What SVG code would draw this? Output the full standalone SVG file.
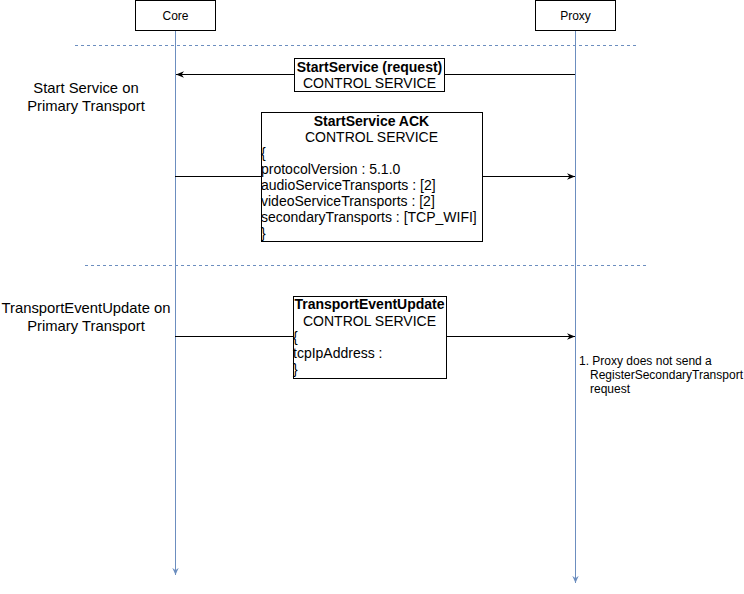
<svg xmlns="http://www.w3.org/2000/svg" width="744" height="594" viewBox="0 0 744 594">
<defs>
<style>
text{font-family:"Liberation Sans",Arial,sans-serif;font-size:12px;fill:#000}
.b{font-weight:bold}
.life{stroke:#6c8ebf;stroke-width:1;fill:none}
.dash{stroke:#6c8ebf;stroke-width:1;stroke-dasharray:3,3;fill:none}
.box{fill:#fff;stroke:#000;stroke-width:1}
.msg{stroke:#000;stroke-width:1;fill:none}
.lbl{font-size:14px}
.side{font-size:14.8px}
</style>
<marker id="ah" viewBox="0 0 10 10" refX="10" refY="5" markerWidth="8" markerHeight="8" orient="auto-start-reverse" markerUnits="userSpaceOnUse"><path d="M0,1 L10,5 L0,9 L3,5 Z" fill="#000"/></marker>
<marker id="lh" viewBox="0 0 10 10" refX="5" refY="9" markerWidth="8" markerHeight="8" orient="0" markerUnits="userSpaceOnUse"><path d="M1,0 L5,9 L9,0 L5,3 Z" fill="#6c8ebf"/></marker>
</defs>
<rect width="744" height="594" fill="#fff"/>
<g id="lifelines">
<path class="life" d="M175.5,30 V575" marker-end="url(#lh)"/>
<path class="life" d="M575.5,30 V583" marker-end="url(#lh)"/>
</g>
<g id="separators">
<path class="dash" d="M75,45.5 H636"/>
<path class="dash" d="M85,265.5 H646"/>
</g>
<g id="core"><rect class="box" x="135.5" y="0.5" width="80" height="30"/><text x="175.5" y="20" text-anchor="middle">Core</text></g>
<g id="proxy"><rect class="box" x="535.5" y="0.5" width="80" height="30"/><text x="575.5" y="20" text-anchor="middle">Proxy</text></g>
<g id="connectors">
<path class="msg" d="M575,74.5 H176" marker-end="url(#ah)"/>
<path class="msg" d="M175,176.5 H575" marker-end="url(#ah)"/>
<path class="msg" d="M175,336.5 H575" marker-end="url(#ah)"/>
</g>
<g id="label-start"><text class="side" x="86" y="93" text-anchor="middle">Start Service on</text><text class="side" x="86" y="111" text-anchor="middle">Primary Transport</text></g>
<g id="label-teu"><text class="side" x="86" y="313" text-anchor="middle">TransportEventUpdate on</text><text class="side" x="86" y="331" text-anchor="middle">Primary Transport</text></g>
<g id="msg-startservice"><rect class="box" x="294.5" y="58.5" width="150" height="33"/>
<text class="b lbl" x="369.5" y="72" text-anchor="middle" font-size="13">StartService (request)</text>
<text class="lbl" x="369.5" y="88" text-anchor="middle">CONTROL SERVICE</text></g>
<g id="msg-ack"><rect class="box" x="261.5" y="112.5" width="221" height="129"/>
<text class="b lbl" x="371.5" y="126" text-anchor="middle">StartService ACK</text>
<text class="lbl" x="371.5" y="142" text-anchor="middle">CONTROL SERVICE</text>
<text class="lbl" x="261" y="158">{</text>
<text class="lbl" x="261" y="174">protocolVersion : 5.1.0</text>
<text class="lbl" x="261" y="190">audioServiceTransports : [2]</text>
<text class="lbl" x="261" y="206">videoServiceTransports : [2]</text>
<text class="lbl" x="261" y="222">secondaryTransports : [TCP_WIFI]</text>
<text class="lbl" x="261" y="238">}</text></g>
<g id="msg-teu"><rect class="box" x="293.5" y="296.5" width="153" height="82"/>
<text class="b lbl" x="369.5" y="309" text-anchor="middle">TransportEventUpdate</text>
<text class="lbl" x="369.5" y="326" text-anchor="middle">CONTROL SERVICE</text>
<text class="lbl" x="293" y="342">{</text>
<text class="lbl" x="293" y="358">tcpIpAddress :</text>
<text class="lbl" x="293" y="374">}</text></g>
<g id="note"><text x="579" y="365" font-size="11">1. Proxy does not send a</text>
<text x="590" y="379" font-size="11">RegisterSecondaryTransport</text>
<text x="590" y="393" font-size="11">request</text></g>
</svg>
